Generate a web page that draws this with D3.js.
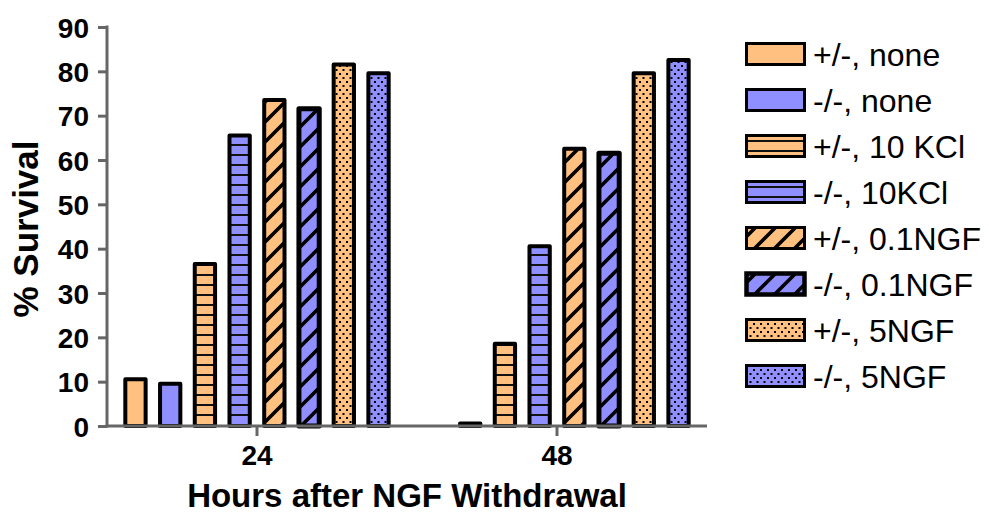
<!DOCTYPE html>
<html><head><meta charset="utf-8">
<script src="https://cdn.jsdelivr.net/npm/d3@7"></script>
<style>body{margin:0;background:#fff}svg{display:block}text{font-family:"Liberation Sans",Arial,sans-serif}</style>
</head><body>
<svg id="c" width="989" height="514"></svg>
<script>
const categories = ["24", "48"];
const seriesNames = ["+/-, none", "-/-, none", "+/-, 10 KCl", "-/-, 10KCl", "+/-, 0.1NGF", "-/-, 0.1NGF", "+/-, 5NGF", "-/-, 5NGF"];
const values24 = [11, 10, 37, 66, 74, 72, 82, 80];
const values48 = [0, 1, 19, 41, 63, 62, 80, 83];
const yTicks = [0, 10, 20, 30, 40, 50, 60, 70, 80, 90];
const seriesValues = [values24, values48];

const genotype = ["het", "ko", "het", "ko", "het", "ko", "het", "ko"];
const fillKind = ["solid", "solid", "hline", "hline", "diag", "diag", "dots", "dots"];
const colors = { het: "#FFC080", ko: "#8F8FFF" };

const svg = d3.select("#c");
const defs = svg.append("defs");

function makePattern(id, kind, color) {
  let w = 10, h = 10;
  if (kind === "diag") { w = 20; h = 20; }
  if (kind === "dots") { w = 7; h = 8; }
  const p = defs.append("pattern").attr("id", id).attr("patternUnits", "userSpaceOnUse")
    .attr("width", w).attr("height", h);
  p.append("rect").attr("width", w).attr("height", h).attr("fill", color);
  if (kind === "hline") {
    p.append("rect").attr("x", 0).attr("y", 4).attr("width", w).attr("height", 2).attr("fill", "#111");
  } else if (kind === "diag") {
    p.append("path").attr("d", `M-5,${h + 5} L${w + 5},-5 M-5,5 L5,-5 M${w - 5},${h + 5} L${w + 5},${h - 5}`)
      .attr("stroke", "#000").attr("stroke-width", 3.6);
  } else if (kind === "dots") {
    p.append("rect").attr("x", 1).attr("y", 1).attr("width", 2).attr("height", 2).attr("fill", "#000");
    p.append("rect").attr("x", 4.5).attr("y", 5).attr("width", 2).attr("height", 2).attr("fill", "#000");
  }
  return `url(#${id})`;
}
function fillFor(i) {
  const c = colors[genotype[i]];
  if (fillKind[i] === "solid") return c;
  return makePattern(`p${i}`, fillKind[i], c);
}
const fills = seriesNames.map((_, i) => fillFor(i));

const x0 = d3.scaleBand().domain(categories).range([107, 707]).paddingInner(0).paddingOuter(0);
const x1 = d3.scaleBand().domain(d3.range(seriesNames.length)).range([0, x0.bandwidth()]).paddingInner(0.3).paddingOuter(0.47);
const y = d3.scaleLinear().domain([0, 90]).range([426, 27]);

// bars
const groups = svg.append("g").selectAll("g").data(categories).join("g")
  .attr("transform", d => `translate(${x0(d)},0)`);
groups.selectAll("rect").data((d, ci) => seriesValues[ci].map((v, i) => ({ v, i })))
  .join("rect")
  .filter(d => d.v > 0)
  .attr("x", d => x1(d.i) + 2)
  .attr("width", x1.bandwidth() - 4)
  .attr("y", d => y(d.v) + 2)
  .attr("height", d => Math.max(0, y(0) - y(d.v) - 2))
  .attr("fill", d => fills[d.i])
  .attr("stroke", "#000")
  .attr("stroke-width", d => d.i === 5 ? 5 : 4)
  .attr("stroke-linejoin", "round");

// axes
const yAxis = svg.append("g").attr("transform", "translate(107,0)")
  .call(d3.axisLeft(y).tickValues(yTicks).tickSize(9).tickPadding(9).tickSizeOuter(0));
const xAxis = svg.append("g").attr("transform", "translate(0,426)")
  .call(d3.axisBottom(x0).tickSize(10).tickPadding(9).tickSizeOuter(0));
[yAxis, xAxis].forEach(a => {
  a.select(".domain").attr("stroke", "#666").attr("stroke-width", 3);
  a.selectAll(".tick line").attr("stroke", "#666").attr("stroke-width", 3);
  a.selectAll(".tick text").attr("fill", "#000").attr("font-size", 28).attr("font-weight", "bold")
    .attr("font-family", '"Liberation Sans", Arial, sans-serif');
});
yAxis.select(".domain").attr("d", "M0,25.5V427.5");
xAxis.select(".domain").attr("d", "M105.5,0H707");
yAxis.selectAll(".tick text").attr("dy", "0.36em");
xAxis.selectAll(".tick text").attr("dy", "0.72em");

// axis titles
svg.append("text").attr("x", 407).attr("y", 507).attr("text-anchor", "middle")
  .attr("font-size", 33).attr("font-weight", "bold").text("Hours after NGF Withdrawal");
svg.append("text").attr("transform", "translate(38,229) rotate(-90)").attr("text-anchor", "middle")
  .attr("font-size", 35).attr("font-weight", "bold").text("% Survival");

// legend
const leg = svg.append("g").selectAll("g").data(seriesNames).join("g")
  .attr("transform", (d, i) => `translate(745,${54 + i * 46})`);
leg.append("rect").attr("x", 1.5).attr("y", -10.5).attr("width", 58).attr("height", 21)
  .attr("fill", (d, i) => fills[i]).attr("stroke", "#000").attr("stroke-width", (d, i) => i === 5 ? 4.5 : 3);
leg.append("text").attr("x", 68).attr("y", 11.5).attr("font-size", 32).attr("fill", "#000").text(d => d);
</script>
</body></html>
